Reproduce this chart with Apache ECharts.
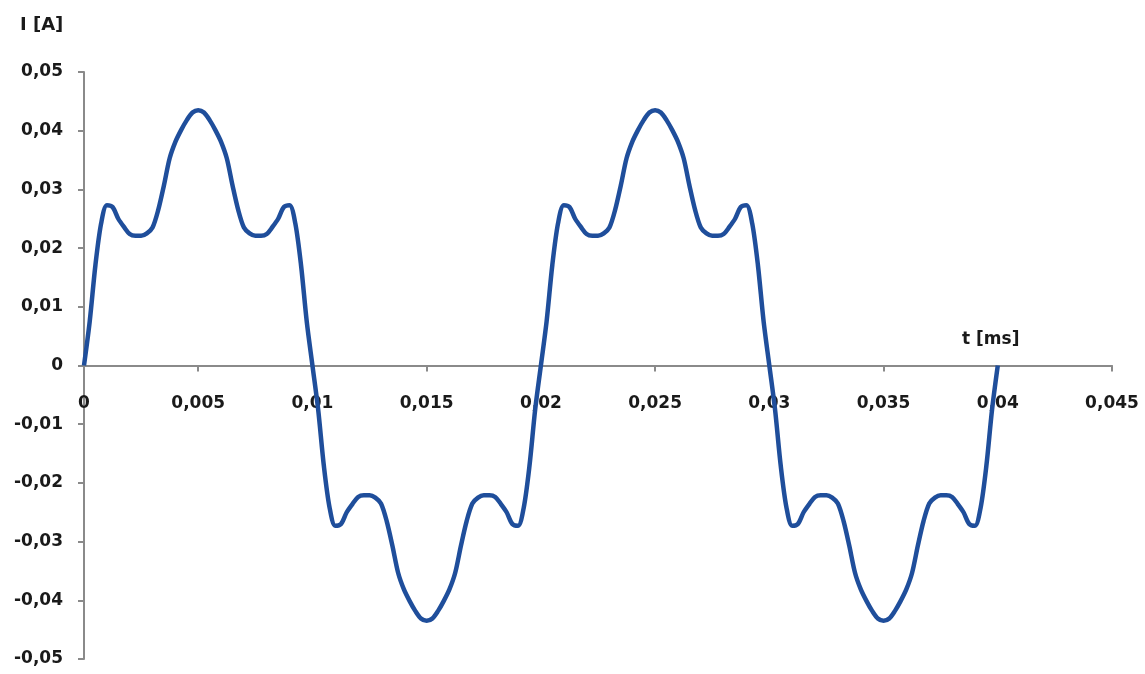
<!DOCTYPE html>
<html>
<head>
<meta charset="utf-8">
<script src="https://cdn.jsdelivr.net/npm/echarts@6/dist/echarts.min.js"></script>
<style>
  html, body { margin: 0; padding: 0; background: #fff; }
  #chart { width: 1145px; height: 674px; }
</style>
</head>
<body>
<div id="chart"></div>
<script>
// time samples [s], every 0.00025
var timeData = [
  0, 0.00025, 0.0005, 0.00075, 0.001, 0.00125, 0.0015, 0.00175, 0.002, 0.00225,
  0.0025, 0.00275, 0.003, 0.00325, 0.0035, 0.00375, 0.004, 0.00425, 0.0045, 0.00475,
  0.005, 0.00525, 0.0055, 0.00575, 0.006, 0.00625, 0.0065, 0.00675, 0.007, 0.00725,
  0.0075, 0.00775, 0.008, 0.00825, 0.0085, 0.00875, 0.009, 0.00925, 0.0095, 0.00975,
  0.01, 0.01025, 0.0105, 0.01075, 0.011, 0.01125, 0.0115, 0.01175, 0.012, 0.01225,
  0.0125, 0.01275, 0.013, 0.01325, 0.0135, 0.01375, 0.014, 0.01425, 0.0145, 0.01475,
  0.015, 0.01525, 0.0155, 0.01575, 0.016, 0.01625, 0.0165, 0.01675, 0.017, 0.01725,
  0.0175, 0.01775, 0.018, 0.01825, 0.0185, 0.01875, 0.019, 0.01925, 0.0195, 0.01975,
  0.02, 0.02025, 0.0205, 0.02075, 0.021, 0.02125, 0.0215, 0.02175, 0.022, 0.02225,
  0.0225, 0.02275, 0.023, 0.02325, 0.0235, 0.02375, 0.024, 0.02425, 0.0245, 0.02475,
  0.025, 0.02525, 0.0255, 0.02575, 0.026, 0.02625, 0.0265, 0.02675, 0.027, 0.02725,
  0.0275, 0.02775, 0.028, 0.02825, 0.0285, 0.02875, 0.029, 0.02925, 0.0295, 0.02975,
  0.03, 0.03025, 0.0305, 0.03075, 0.031, 0.03125, 0.0315, 0.03175, 0.032, 0.03225,
  0.0325, 0.03275, 0.033, 0.03325, 0.0335, 0.03375, 0.034, 0.03425, 0.0345, 0.03475,
  0.035, 0.03525, 0.0355, 0.03575, 0.036, 0.03625, 0.0365, 0.03675, 0.037, 0.03725,
  0.0375, 0.03775, 0.038, 0.03825, 0.0385, 0.03875, 0.039, 0.03925, 0.0395, 0.03975,
  0.04
];

// current [A]
var currentData = [
  0, 0.0075, 0.0171, 0.0242, 0.0273, 0.0270, 0.0250, 0.0236, 0.0224, 0.0221,
  0.0221, 0.0225, 0.0235, 0.0265, 0.0307, 0.0353, 0.0381, 0.0401, 0.0418, 0.0431,
  0.0435, 0.0431, 0.0418, 0.0401, 0.0381, 0.0353, 0.0307, 0.0265, 0.0235, 0.0225,
  0.0221, 0.0221, 0.0224, 0.0236, 0.0250, 0.0270, 0.0273, 0.0242, 0.0171, 0.0075,
  0, -0.0075, -0.0171, -0.0242, -0.0273, -0.0270, -0.0250, -0.0236, -0.0224, -0.0221,
  -0.0221, -0.0225, -0.0235, -0.0265, -0.0307, -0.0353, -0.0381, -0.0401, -0.0418, -0.0431,
  -0.0435, -0.0431, -0.0418, -0.0401, -0.0381, -0.0353, -0.0307, -0.0265, -0.0235, -0.0225,
  -0.0221, -0.0221, -0.0224, -0.0236, -0.0250, -0.0270, -0.0273, -0.0242, -0.0171, -0.0075,
  0, 0.0075, 0.0171, 0.0242, 0.0273, 0.0270, 0.0250, 0.0236, 0.0224, 0.0221,
  0.0221, 0.0225, 0.0235, 0.0265, 0.0307, 0.0353, 0.0381, 0.0401, 0.0418, 0.0431,
  0.0435, 0.0431, 0.0418, 0.0401, 0.0381, 0.0353, 0.0307, 0.0265, 0.0235, 0.0225,
  0.0221, 0.0221, 0.0224, 0.0236, 0.0250, 0.0270, 0.0273, 0.0242, 0.0171, 0.0075,
  0, -0.0075, -0.0171, -0.0242, -0.0273, -0.0270, -0.0250, -0.0236, -0.0224, -0.0221,
  -0.0221, -0.0225, -0.0235, -0.0265, -0.0307, -0.0353, -0.0381, -0.0401, -0.0418, -0.0431,
  -0.0435, -0.0431, -0.0418, -0.0401, -0.0381, -0.0353, -0.0307, -0.0265, -0.0235, -0.0225,
  -0.0221, -0.0221, -0.0224, -0.0236, -0.0250, -0.0270, -0.0273, -0.0242, -0.0171, -0.0075,
  0
];

var xMin = 0, xMax = 0.045, xStep = 0.005;
var yMin = -0.05, yMax = 0.05, yStep = 0.01;

var labelFont = 'DejaVu Sans';
var axisGrey = '#8a8a8a';

// plot box
var gridTop = 72, gridBottom = 15, chartH = 674;
// the time axis sits on I = 0, half way down the plot box
var plotH = chartH - gridTop - gridBottom;
var xAxisShift = -plotH * (0 - yMin) / (yMax - yMin);

// Excel-style comma decimals
function fmt(v, digits) {
  return String(parseFloat(v.toFixed(digits))).replace('.', ',');
}

var seriesData = timeData.map(function (t, i) {
  return [t, currentData[i]];
});

var chart = echarts.init(document.getElementById('chart'), null, { renderer: 'canvas' });

var option = {
  backgroundColor: '#ffffff',
  animation: false,
  grid: {
    left: 84,
    right: 33,
    top: gridTop,
    bottom: gridBottom,
    containLabel: false,
    outerBoundsMode: 'none'
  },
  xAxis: {
    type: 'value',
    min: xMin,
    max: xMax,
    interval: xStep,
    offset: xAxisShift,
    axisLine: { show: true, onZero: false, lineStyle: { color: axisGrey, width: 2 } },
    axisTick: { show: true, length: 6, lineStyle: { color: axisGrey, width: 2 } },
    splitLine: { show: false },
    axisLabel: {
      margin: 30,
      color: '#1a1a1a',
      fontFamily: labelFont,
      fontWeight: 'bold',
      fontSize: 17,
      formatter: function (v) { return fmt(v, 3); }
    }
  },
  yAxis: {
    type: 'value',
    min: yMin,
    max: yMax,
    interval: yStep,
    axisLine: { show: true, lineStyle: { color: axisGrey, width: 2 } },
    axisTick: { show: true, length: 6, lineStyle: { color: axisGrey, width: 2 } },
    splitLine: { show: false },
    axisLabel: {
      margin: 21,
      color: '#1a1a1a',
      fontFamily: labelFont,
      fontWeight: 'bold',
      fontSize: 17,
      formatter: function (v) { return fmt(v, 2); }
    }
  },
  graphic: [
    {
      type: 'text',
      left: 20,
      top: 16,
      style: {
        text: 'I [A]',
        fill: '#1a1a1a',
        font: 'bold 18px "DejaVu Sans"'
      }
    },
    {
      type: 'text',
      left: 962,
      top: 331,
      style: {
        text: 't [ms]',
        fill: '#1a1a1a',
        font: 'bold 17px "DejaVu Sans"'
      }
    }
  ],
  series: [
    {
      name: 'I',
      type: 'line',
      data: seriesData,
      smooth: 0.3,
      showSymbol: false,
      clip: false,
      lineStyle: { color: '#1f4e9b', width: 4.5 }
    }
  ]
};

chart.setOption(option);
</script>
</body>
</html>
